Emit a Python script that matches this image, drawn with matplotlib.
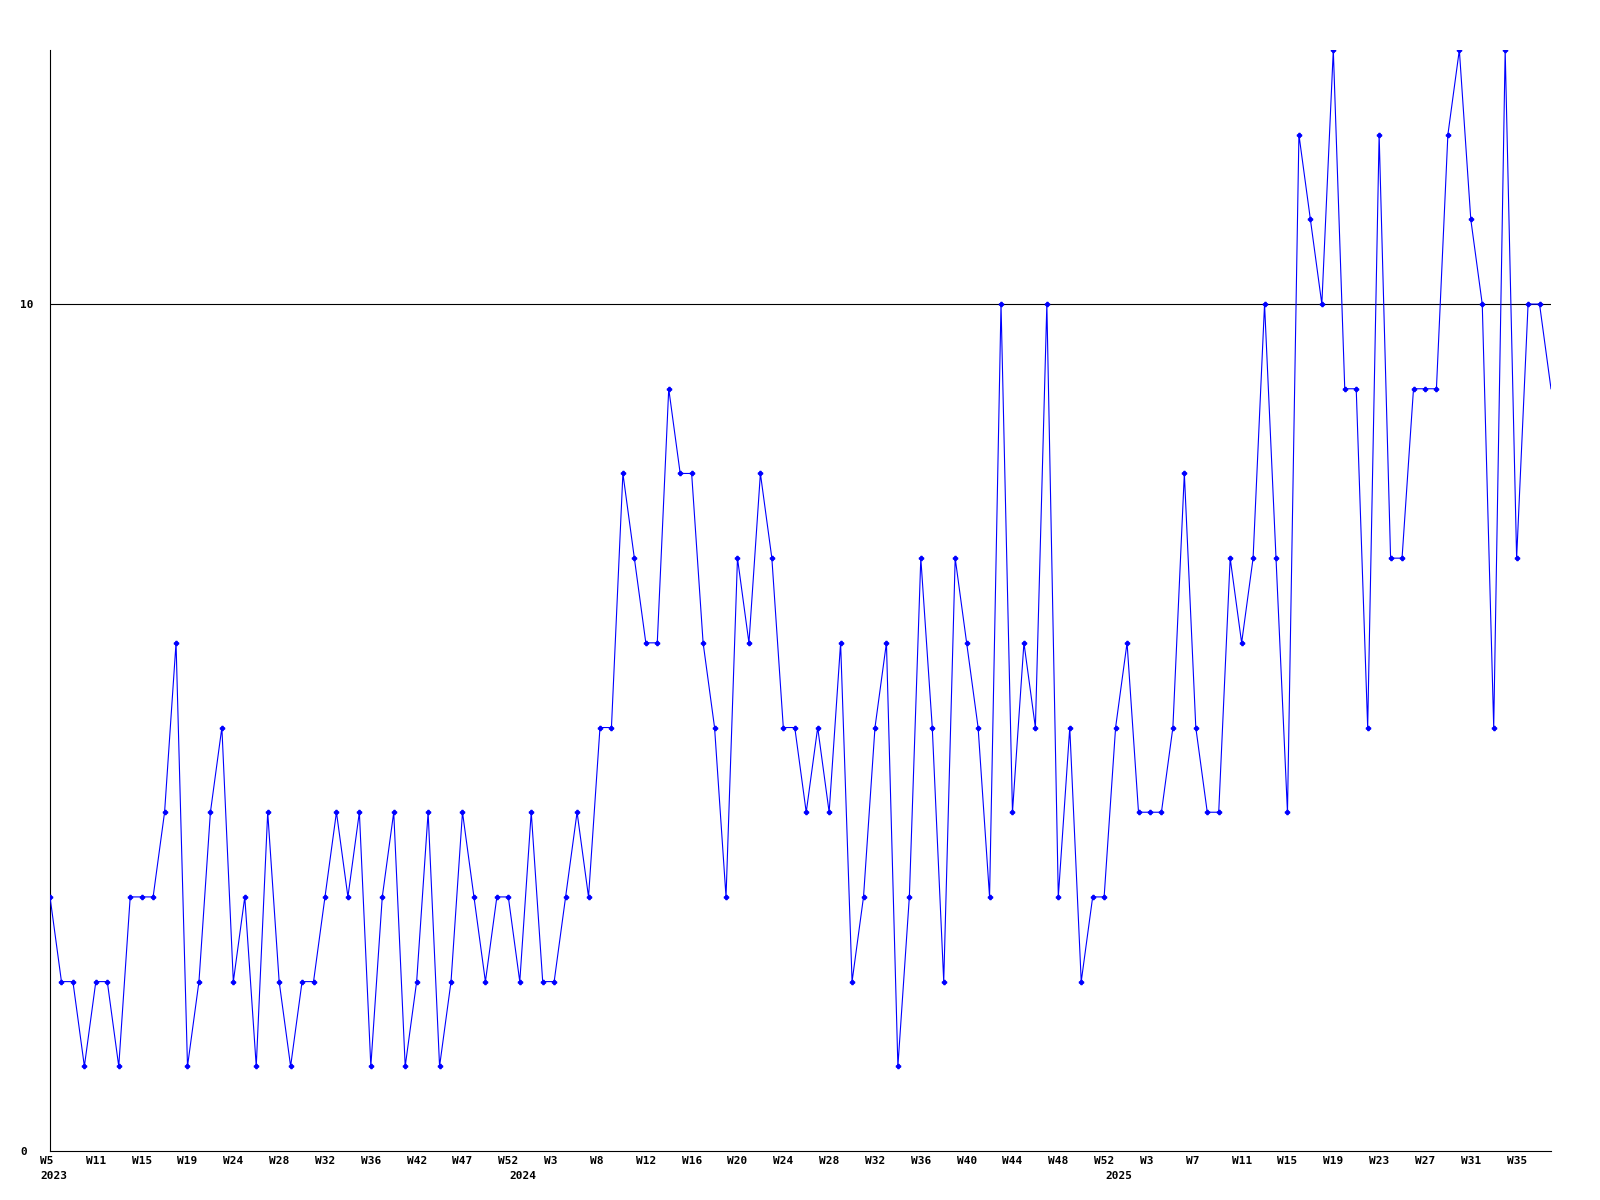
import matplotlib
matplotlib.use("Agg")
import matplotlib.pyplot as plt
import matplotlib.transforms as mtransforms
import numpy as np

# weekly values
werte = [3, 2, 2, 1, 2, 2, 1, 3, 3, 3, 4, 6, 1, 2, 4, 5, 2, 3, 1, 4,
         2, 1, 2, 2, 3, 4, 3, 4, 1, 3, 4, 1, 2, 4, 1, 2, 4, 3, 2, 3,
         3, 2, 4, 2, 2, 3, 4, 3, 5, 5, 8, 7, 6, 6, 9, 8, 8, 6, 5, 3,
         7, 6, 8, 7, 5, 5, 4, 5, 4, 6, 2, 3, 5, 6, 1, 3, 7, 5, 2, 7,
         6, 5, 3, 10, 4, 6, 5, 10, 3, 5, 2, 3, 3, 5, 6, 4, 4, 4, 5, 8,
         5, 4, 4, 7, 6, 7, 10, 7, 4, 12, 11, 10, 13, 9, 9, 5, 12, 7, 7, 9,
         9, 9, 12, 13, 11, 10, 5, 13, 7, 10, 10, 9]

wochen = ["W5", "W11", "W15", "W19", "W24", "W28", "W32", "W36", "W42", "W47",
          "W52", "W3", "W8", "W12", "W16", "W20", "W24", "W28", "W32", "W36",
          "W40", "W44", "W48", "W52", "W3", "W7", "W11", "W15", "W19", "W23",
          "W27", "W31", "W35"]
tick_pos = list(range(0, 4 * len(wochen), 4))

jahre = ["2023", "2024", "2025"]
jahr_pos = [0, 41, 93]

y_ticks = [0, 10]

x = np.arange(len(werte))

plt.rcParams["font.family"] = "DejaVu Sans Mono"
plt.rcParams["font.weight"] = "bold"
plt.rcParams["font.size"] = 8

fig = plt.figure(figsize=(16, 12), dpi=100)
ax = fig.add_axes([50 / 1600, 49 / 1200, 1501 / 1600, 1101 / 1200])

# last point sits on the right edge, no marker there
ax.plot(x, werte, color="#0000ff", linewidth=0.8, marker="P", markersize=3,
        markevery=list(range(len(werte) - 1)), zorder=3)

ax.axhline(10, color="black", linewidth=0.8, zorder=1)

ax.set_xlim(0, len(werte) - 1)
ax.set_ylim(0, 13)

for s in ["top", "right"]:
    ax.spines[s].set_visible(False)
for s in ["left", "bottom"]:
    ax.spines[s].set_linewidth(0.8)

ax.set_yticks(y_ticks)
ax.set_yticklabels([str(v) for v in y_ticks])
ax.tick_params(axis="y", length=0, pad=21.6)
for lab in ax.get_yticklabels():
    lab.set_horizontalalignment("left")

ax.xaxis.remove_overlapping_locs = False
ax.set_xticks(tick_pos)
ax.set_xticklabels(wochen)
ax.set_xticks(jahr_pos, minor=True)
ax.set_xticklabels(jahre, minor=True)
ax.tick_params(axis="x", which="major", length=0, pad=3.5)
ax.tick_params(axis="x", which="minor", length=0, pad=14.5)

verschub = mtransforms.ScaledTranslation(-10 / 100, 0, fig.dpi_scale_trans)
for lab in ax.get_xticklabels() + ax.get_xticklabels(minor=True):
    lab.set_horizontalalignment("left")
    lab.set_transform(lab.get_transform() + verschub)

fig.savefig("out.png", dpi=100)
